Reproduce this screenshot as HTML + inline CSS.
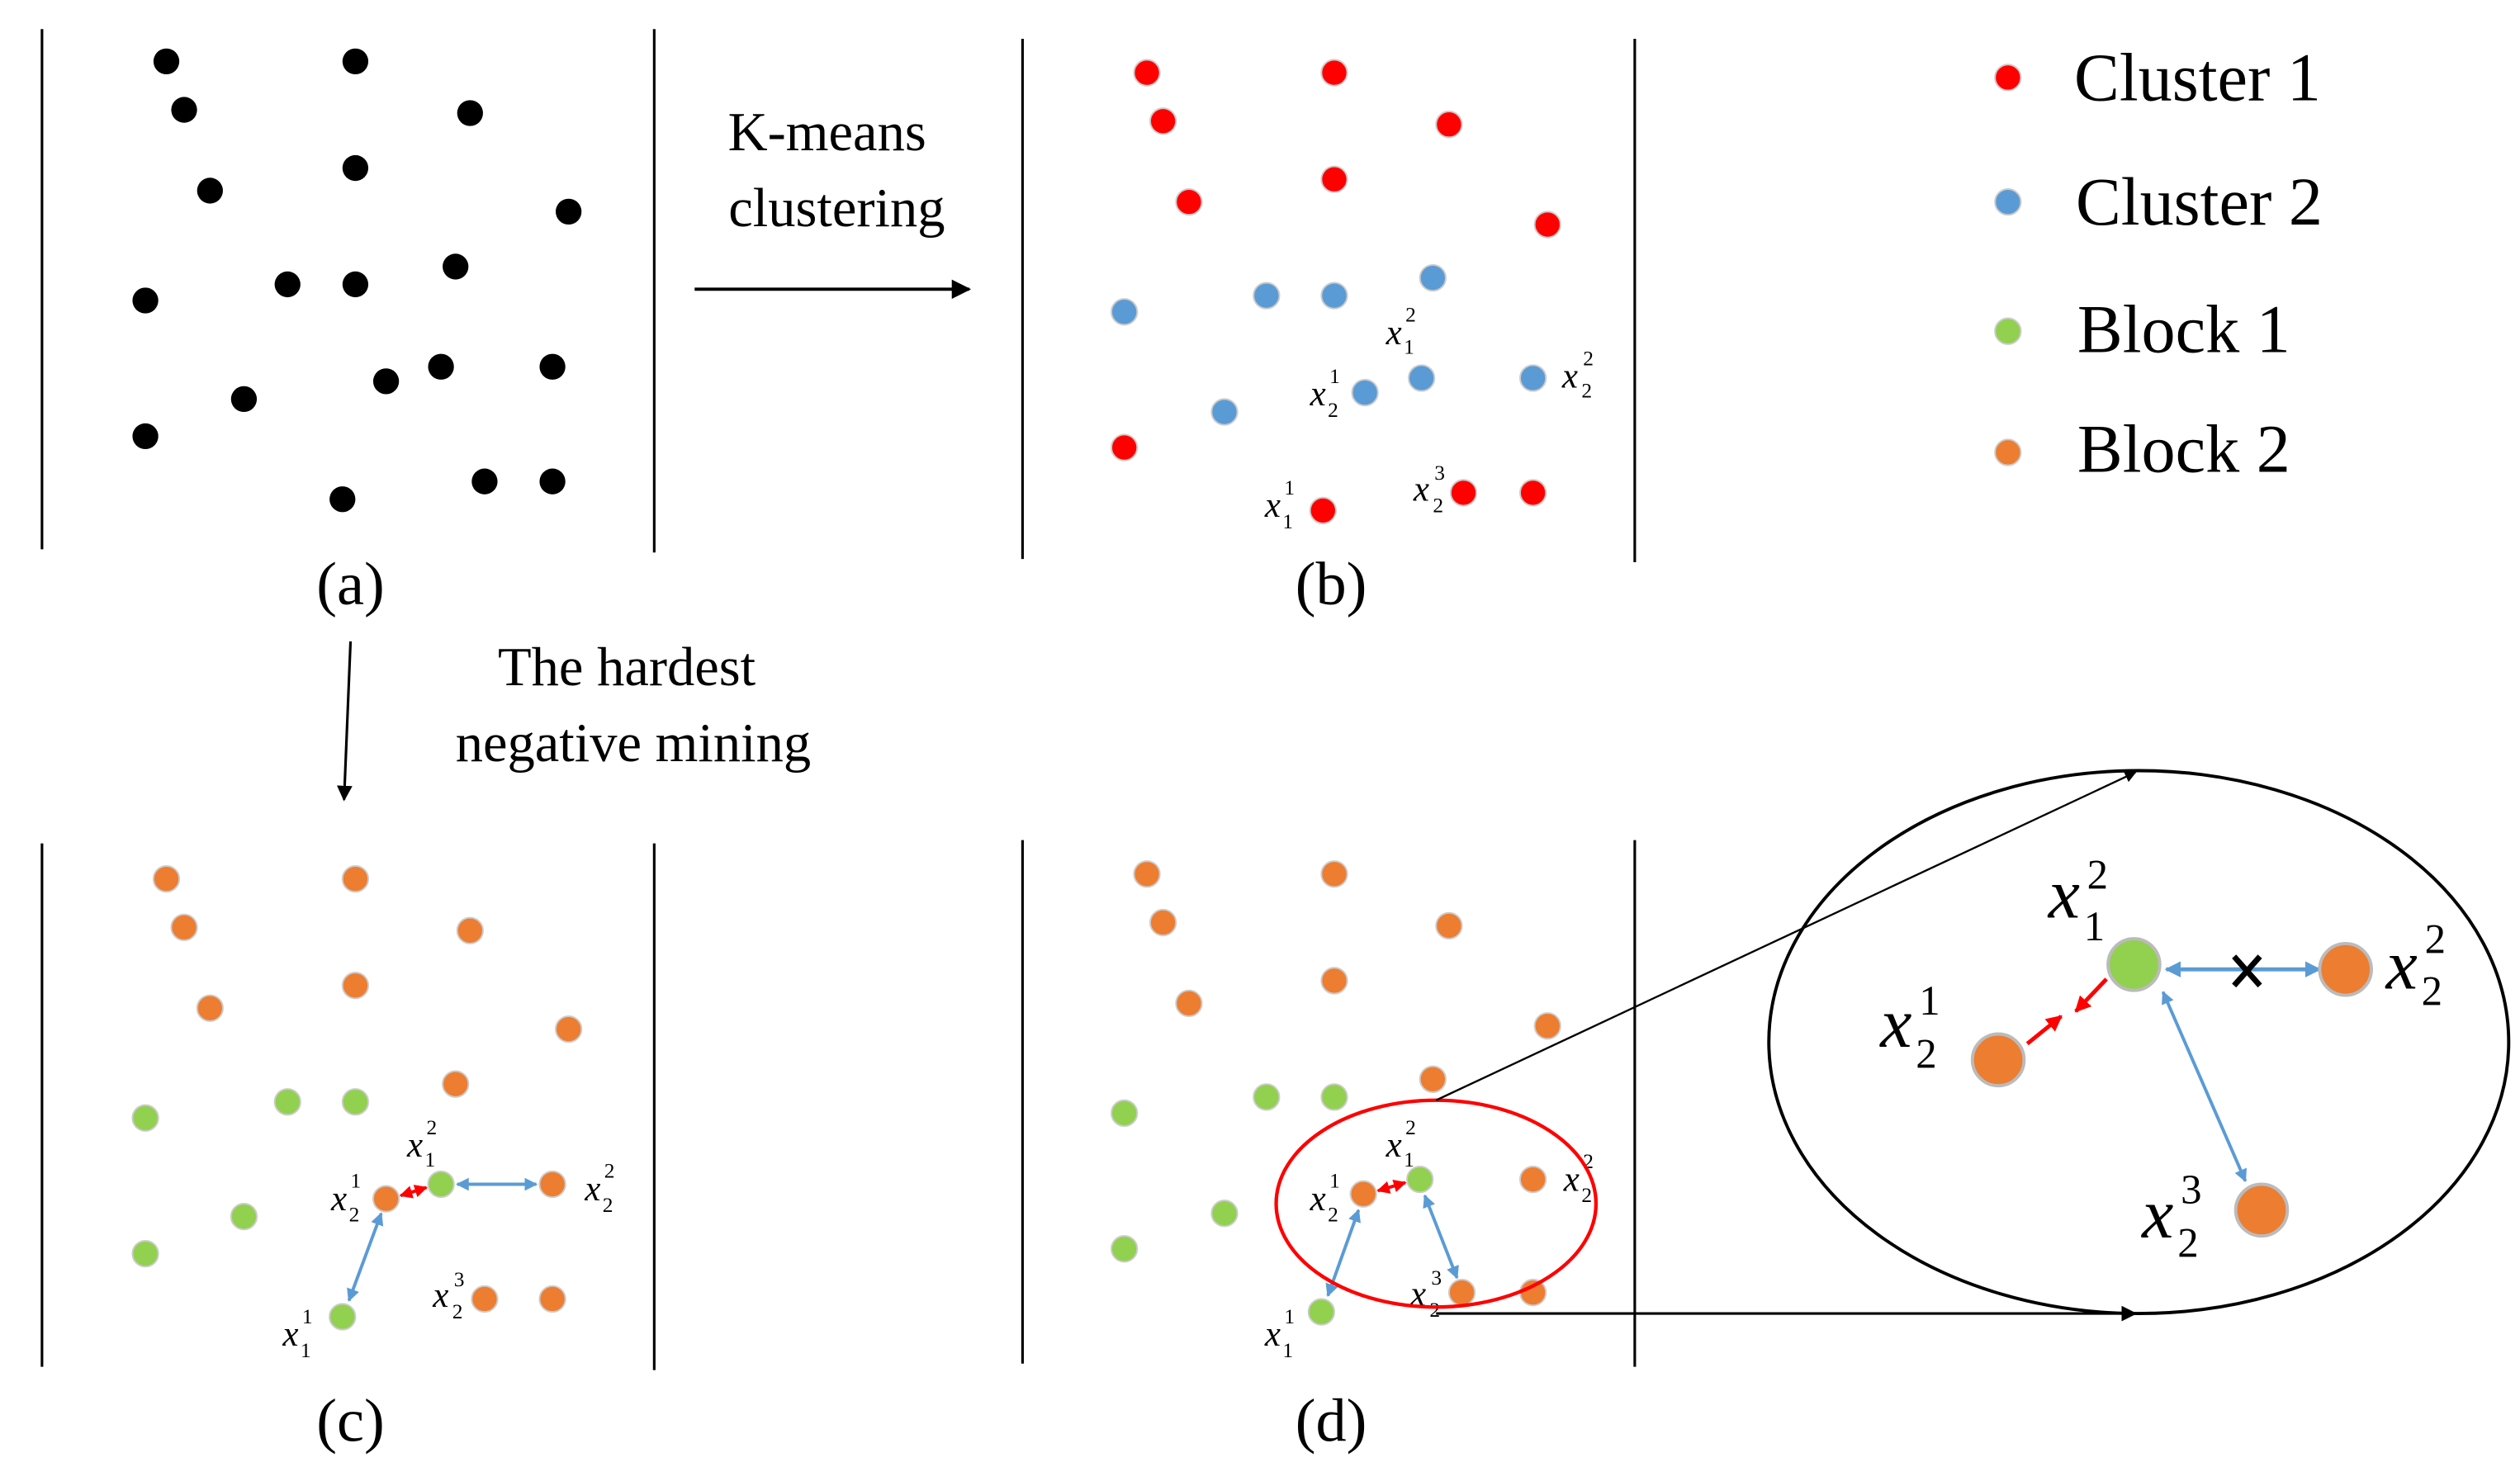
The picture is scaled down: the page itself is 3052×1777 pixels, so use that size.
<!DOCTYPE html>
<html><head><meta charset="utf-8"><style>
html,body{margin:0;padding:0;background:#fff;}
svg{display:block;}
text{font-family:"Liberation Serif",serif;fill:#000;}
.lb{font-style:italic;}
</style></head><body>
<svg width="3052" height="1777" viewBox="0 0 1560 908" preserveAspectRatio="none" xmlns="http://www.w3.org/2000/svg" font-family="Liberation Serif, serif">
<defs>
<marker id="ab" viewBox="0 0 10 10" refX="9" refY="5" markerWidth="6" markerHeight="6" orient="auto-start-reverse"><path d="M0,0L10,5L0,10z" fill="#000"/></marker>
<marker id="abl" viewBox="0 0 10 10" refX="9" refY="5" markerWidth="4" markerHeight="4" orient="auto-start-reverse"><path d="M0,0L10,5L0,10z" fill="#5b9bd5"/></marker>
<marker id="ar" viewBox="0 0 10 10" refX="9" refY="5" markerWidth="4" markerHeight="4" orient="auto-start-reverse"><path d="M0,0L10,5L0,10z" fill="#f00"/></marker>
</defs>
<g stroke="#000" stroke-width="1.6">
<line x1="26" y1="18" x2="26" y2="340"/><line x1="405" y1="18" x2="405" y2="342"/>
<line x1="633" y1="24" x2="633" y2="346"/><line x1="1012" y1="24" x2="1012" y2="348"/>
<line x1="26" y1="522" x2="26" y2="846"/><line x1="405" y1="522" x2="405" y2="848"/>
<line x1="633" y1="520" x2="633" y2="844"/><line x1="1012" y1="520" x2="1012" y2="846"/>
</g>
<g fill="#000">
<circle cx="103" cy="38" r="8"/><circle cx="220" cy="38" r="8"/><circle cx="114" cy="68" r="8"/><circle cx="291" cy="70" r="8"/>
<circle cx="220" cy="104" r="8"/><circle cx="130" cy="118" r="8"/><circle cx="352" cy="131" r="8"/><circle cx="90" cy="186" r="8"/>
<circle cx="178" cy="176" r="8"/><circle cx="220" cy="176" r="8"/><circle cx="282" cy="165" r="8"/><circle cx="151" cy="247" r="8"/>
<circle cx="239" cy="236" r="8"/><circle cx="273" cy="227" r="8"/><circle cx="342" cy="227" r="8"/><circle cx="90" cy="270" r="8"/>
<circle cx="212" cy="309" r="8"/><circle cx="300" cy="298" r="8"/><circle cx="342" cy="298" r="8"/>
</g>
<text x="217" y="374" font-size="38" text-anchor="middle">(a)</text>
<text x="512" y="93" font-size="34" text-anchor="middle">K-means</text>
<text x="518" y="140" font-size="34" text-anchor="middle">clustering</text>
<line x1="430" y1="179" x2="600" y2="179" stroke="#000" stroke-width="2" marker-end="url(#ab)"/>
<g stroke="#ccc" stroke-width="1">
<g fill="#f00">
<circle cx="710" cy="45" r="8"/><circle cx="826" cy="45" r="8"/><circle cx="720" cy="75" r="8"/><circle cx="897" cy="77" r="8"/>
<circle cx="826" cy="111" r="8"/><circle cx="736" cy="125" r="8"/><circle cx="958" cy="139" r="8"/><circle cx="696" cy="277" r="8"/>
<circle cx="819" cy="316" r="8"/><circle cx="906" cy="305" r="8"/><circle cx="949" cy="305" r="8"/>
</g>
<g fill="#5b9bd5">
<circle cx="696" cy="193" r="8"/><circle cx="784" cy="183" r="8"/><circle cx="826" cy="183" r="8"/><circle cx="887" cy="172" r="8"/>
<circle cx="758" cy="255" r="8"/><circle cx="845" cy="243" r="8"/><circle cx="880" cy="234" r="8"/><circle cx="949" cy="234" r="8"/>
</g>
</g>
<g class="lb" font-size="22">
<text x="858" y="213">x</text><text x="870" y="199" font-size="13" font-style="normal">2</text><text x="869" y="219" font-size="13" font-style="normal">1</text>
<text x="811" y="251">x</text><text x="823" y="237" font-size="13" font-style="normal">1</text><text x="822" y="258" font-size="13" font-style="normal">2</text>
<text x="967" y="240">x</text><text x="980" y="226" font-size="13" font-style="normal">2</text><text x="979" y="246" font-size="13" font-style="normal">2</text>
<text x="875" y="310">x</text><text x="888" y="297" font-size="13" font-style="normal">3</text><text x="887" y="317" font-size="13" font-style="normal">2</text>
<text x="783" y="320">x</text><text x="795" y="306" font-size="13" font-style="normal">1</text><text x="794" y="327" font-size="13" font-style="normal">1</text>
</g>
<text x="824" y="374" font-size="38" text-anchor="middle">(b)</text>
<g stroke="#ccc" stroke-width="1">
<circle cx="1243" cy="48" r="8" fill="#f00"/><circle cx="1243" cy="125" r="8" fill="#5b9bd5"/>
<circle cx="1243" cy="205" r="8" fill="#92d050"/><circle cx="1243" cy="280" r="8" fill="#ed7d31"/>
</g>
<g font-size="42">
<text x="1284" y="62">Cluster 1</text><text x="1285" y="139">Cluster 2</text>
<text x="1286" y="218">Block 1</text><text x="1286" y="292">Block 2</text>
</g>
<line x1="217" y1="397" x2="213" y2="495" stroke="#000" stroke-width="1.6" marker-end="url(#ab)"/>
<text x="388" y="424" font-size="34" text-anchor="middle">The hardest</text>
<text x="392" y="471" font-size="34" text-anchor="middle">negative mining</text>
<g stroke="#ccc" stroke-width="1">
<g fill="#ed7d31">
<circle cx="103" cy="544" r="8"/><circle cx="220" cy="544" r="8"/><circle cx="114" cy="574" r="8"/><circle cx="291" cy="576" r="8"/>
<circle cx="220" cy="610" r="8"/><circle cx="130" cy="624" r="8"/><circle cx="352" cy="637" r="8"/><circle cx="282" cy="671" r="8"/>
<circle cx="239" cy="742" r="8"/><circle cx="342" cy="733" r="8"/><circle cx="300" cy="804" r="8"/><circle cx="342" cy="804" r="8"/>
</g>
<g fill="#92d050">
<circle cx="90" cy="692" r="8"/><circle cx="178" cy="682" r="8"/><circle cx="220" cy="682" r="8"/><circle cx="151" cy="753" r="8"/>
<circle cx="90" cy="776" r="8"/><circle cx="212" cy="815" r="8"/><circle cx="273" cy="733" r="8"/>
</g>
</g>
<line x1="248" y1="740" x2="264" y2="735" stroke="#f00" stroke-width="2" marker-start="url(#ar)" marker-end="url(#ar)"/>
<line x1="283" y1="733" x2="332" y2="733" stroke="#5b9bd5" stroke-width="2" marker-start="url(#abl)" marker-end="url(#abl)"/>
<line x1="216" y1="805" x2="236" y2="751" stroke="#5b9bd5" stroke-width="2" marker-start="url(#abl)" marker-end="url(#abl)"/>
<g class="lb" font-size="22">
<text x="252" y="716">x</text><text x="264" y="702" font-size="13" font-style="normal">2</text><text x="263" y="722" font-size="13" font-style="normal">1</text>
<text x="205" y="749">x</text><text x="217" y="735" font-size="13" font-style="normal">1</text><text x="216" y="756" font-size="13" font-style="normal">2</text>
<text x="362" y="743">x</text><text x="374" y="729" font-size="13" font-style="normal">2</text><text x="373" y="750" font-size="13" font-style="normal">2</text>
<text x="268" y="809">x</text><text x="281" y="796" font-size="13" font-style="normal">3</text><text x="280" y="816" font-size="13" font-style="normal">2</text>
<text x="175" y="833">x</text><text x="187" y="819" font-size="13" font-style="normal">1</text><text x="186" y="840" font-size="13" font-style="normal">1</text>
</g>
<text x="217" y="892" font-size="38" text-anchor="middle">(c)</text>
<g stroke="#ccc" stroke-width="1">
<g fill="#ed7d31">
<circle cx="710" cy="541" r="8"/><circle cx="826" cy="541" r="8"/><circle cx="720" cy="571" r="8"/><circle cx="897" cy="573" r="8"/>
<circle cx="826" cy="607" r="8"/><circle cx="736" cy="621" r="8"/><circle cx="958" cy="635" r="8"/><circle cx="887" cy="668" r="8"/>
<circle cx="844" cy="739" r="8"/><circle cx="949" cy="730" r="8"/><circle cx="905" cy="800" r="8"/><circle cx="949" cy="800" r="8"/>
</g>
<g fill="#92d050">
<circle cx="696" cy="689" r="8"/><circle cx="784" cy="679" r="8"/><circle cx="826" cy="679" r="8"/><circle cx="758" cy="751" r="8"/>
<circle cx="696" cy="773" r="8"/><circle cx="818" cy="812" r="8"/><circle cx="879" cy="730" r="8"/>
</g>
</g>
<line x1="853" y1="737" x2="870" y2="732" stroke="#f00" stroke-width="2" marker-start="url(#ar)" marker-end="url(#ar)"/>
<line x1="822" y1="802" x2="841" y2="749" stroke="#5b9bd5" stroke-width="2" marker-start="url(#abl)" marker-end="url(#abl)"/>
<line x1="882" y1="740" x2="902" y2="791" stroke="#5b9bd5" stroke-width="2" marker-start="url(#abl)" marker-end="url(#abl)"/>
<g class="lb" font-size="22">
<text x="858" y="716">x</text><text x="870" y="702" font-size="13" font-style="normal">2</text><text x="869" y="722" font-size="13" font-style="normal">1</text>
<text x="811" y="749">x</text><text x="823" y="735" font-size="13" font-style="normal">1</text><text x="822" y="756" font-size="13" font-style="normal">2</text>
<text x="968" y="737">x</text><text x="980" y="723" font-size="13" font-style="normal">2</text><text x="979" y="744" font-size="13" font-style="normal">2</text>
<text x="873" y="808">x</text><text x="886" y="795" font-size="13" font-style="normal">3</text><text x="885" y="815" font-size="13" font-style="normal">2</text>
<text x="783" y="833">x</text><text x="795" y="819" font-size="13" font-style="normal">1</text><text x="794" y="840" font-size="13" font-style="normal">1</text>
</g>
<ellipse cx="889" cy="745" rx="99" ry="64" fill="none" stroke="#f00" stroke-width="2.2"/>
<text x="824" y="892" font-size="38" text-anchor="middle">(d)</text>
<line x1="889" y1="681" x2="1322" y2="478" stroke="#000" stroke-width="1.2" marker-end="url(#ab)"/>
<line x1="889" y1="813" x2="1322" y2="813" stroke="#000" stroke-width="1.6" marker-end="url(#ab)"/>
<ellipse cx="1324" cy="645" rx="229" ry="168" fill="none" stroke="#000" stroke-width="2"/>
<line x1="1304" y1="606" x2="1285" y2="626" stroke="#f00" stroke-width="2.5" marker-end="url(#ar)"/>
<line x1="1255" y1="646" x2="1276" y2="629" stroke="#f00" stroke-width="2.5" marker-end="url(#ar)"/>
<line x1="1341" y1="600" x2="1436" y2="600" stroke="#5b9bd5" stroke-width="2.5" marker-start="url(#abl)" marker-end="url(#abl)"/>
<line x1="1339" y1="614" x2="1390" y2="731" stroke="#5b9bd5" stroke-width="2" marker-start="url(#abl)" marker-end="url(#abl)"/>
<g stroke="#000" stroke-width="3.5">
<line x1="1383" y1="592" x2="1399" y2="610"/><line x1="1399" y1="592" x2="1383" y2="610"/>
</g>
<g stroke="#bbb" stroke-width="2">
<circle cx="1321" cy="597" r="16" fill="#92d050"/>
<circle cx="1452" cy="600" r="16" fill="#ed7d31"/>
<circle cx="1237" cy="656" r="16" fill="#ed7d31"/>
<circle cx="1400" cy="749" r="16" fill="#ed7d31"/>
</g>
<g class="lb" font-size="44">
<text x="1268" y="568">x</text><text x="1292" y="550" font-size="26" font-style="normal">2</text><text x="1290" y="582" font-size="26" font-style="normal">1</text>
<text x="1164" y="648">x</text><text x="1188" y="628" font-size="26" font-style="normal">1</text><text x="1186" y="661" font-size="26" font-style="normal">2</text>
<text x="1477" y="612">x</text><text x="1501" y="590" font-size="26" font-style="normal">2</text><text x="1499" y="622" font-size="26" font-style="normal">2</text>
<text x="1326" y="766">x</text><text x="1350" y="745" font-size="26" font-style="normal">3</text><text x="1348" y="778" font-size="26" font-style="normal">2</text>
</g>
</svg>
</body></html>
